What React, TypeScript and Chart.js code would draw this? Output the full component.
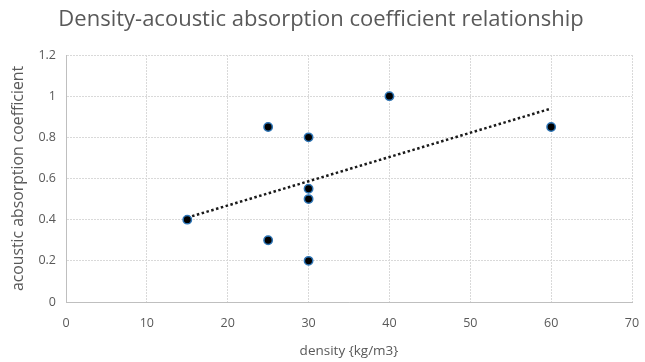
import React, { useEffect, useRef } from "react";
import { Chart, registerables } from "chart.js";

Chart.register(...registerables);

const densities = [15, 25, 25, 30, 30, 30, 30, 40, 60];
const absorption = [0.4, 0.85, 0.3, 0.8, 0.55, 0.5, 0.2, 1.0, 0.85];
const trendX = [15, 60];
const trendY = [0.41, 0.94];

const titleText = "Density-acoustic absorption coefficient relationship";
const xTitle = "density {kg/m3}";
const yTitle = "acoustic absorption coefficient";

const FONT = "'Open Sans', 'Noto Sans', sans-serif";
const GRAY = "#595959";

export default function App() {
  const ref = useRef<HTMLCanvasElement | null>(null);
  useEffect(() => {
    document.body.style.margin = "0";
    const canvas = ref.current!;
    const titlePlugin = {
      id: "customTitle",
      afterDraw(chart: any) {
        const ctx = chart.ctx;
        ctx.save();
        ctx.font = `22px ${FONT}`;
        ctx.fillStyle = GRAY;
        ctx.textAlign = "center";
        ctx.textBaseline = "middle";
        ctx.fillText(titleText, 321, 20);
        ctx.restore();
      },
    };
    const chart = new Chart(canvas, {
      type: "scatter",
      data: {
        datasets: [
          {
            label: "data",
            data: densities.map((x, i) => ({ x, y: absorption[i] })),
            backgroundColor: "#000000",
            borderColor: "#2e75b6",
            borderWidth: 1.5,
            pointRadius: 4.2,
            order: 1,
          },
          {
            label: "trend",
            data: trendX.map((x, i) => ({ x, y: trendY[i] })),
            showLine: true,
            borderColor: "#1a1a1a",
            borderWidth: 2.5,
            borderDash: [2.5, 2.5],
            pointRadius: 0,
            order: 2,
          } as any,
        ],
      },
      options: {
        animation: false,
        responsive: false,
        layout: { padding: { top: 55, right: 13, left: 9, bottom: 3 } },
        plugins: {
          legend: { display: false },
          title: { display: false },
          tooltip: { enabled: false },
        },
        scales: {
          x: {
            type: "linear",
            min: 0,
            max: 70,
            ticks: {
              stepSize: 10,
              color: GRAY,
              font: { family: FONT, size: 12.5 },
              padding: 4,
            },
            grid: {
              color: "#d9d9d9",
              drawTicks: true,
              tickLength: 10,
              tickColor: "rgba(0,0,0,0)",
              lineWidth: 1,
            },
            border: { color: "#bfbfbf", dash: [2, 1] },
            title: {
              display: true,
              text: xTitle,
              color: GRAY,
              font: { family: FONT, size: 13.5 },
              padding: { top: 6, bottom: 0 },
            },
            afterFit(scale: any) {
              scale.height = 57;
            },
          },
          y: {
            type: "linear",
            min: 0,
            max: 1.2,
            ticks: {
              stepSize: 0.2,
              color: GRAY,
              font: { family: FONT, size: 12.5 },
              padding: 10,
              callback: (v: any) => String(Math.round(Number(v) * 10) / 10),
            },
            grid: { color: "#d9d9d9", drawTicks: false, lineWidth: 1 },
            border: { color: "#bfbfbf", dash: [2, 1] },
            title: {
              display: true,
              text: yTitle,
              color: GRAY,
              font: { family: FONT, size: 15.8 },
              padding: { top: 0, bottom: 4 },
            },
            afterFit(scale: any) {
              scale.width = 57;
            },
          },
        },
      },
      plugins: [titlePlugin],
    } as any);
    return () => chart.destroy();
  }, []);
  return <canvas ref={ref} width={645} height={362} style={{ display: "block" }} />;
}
